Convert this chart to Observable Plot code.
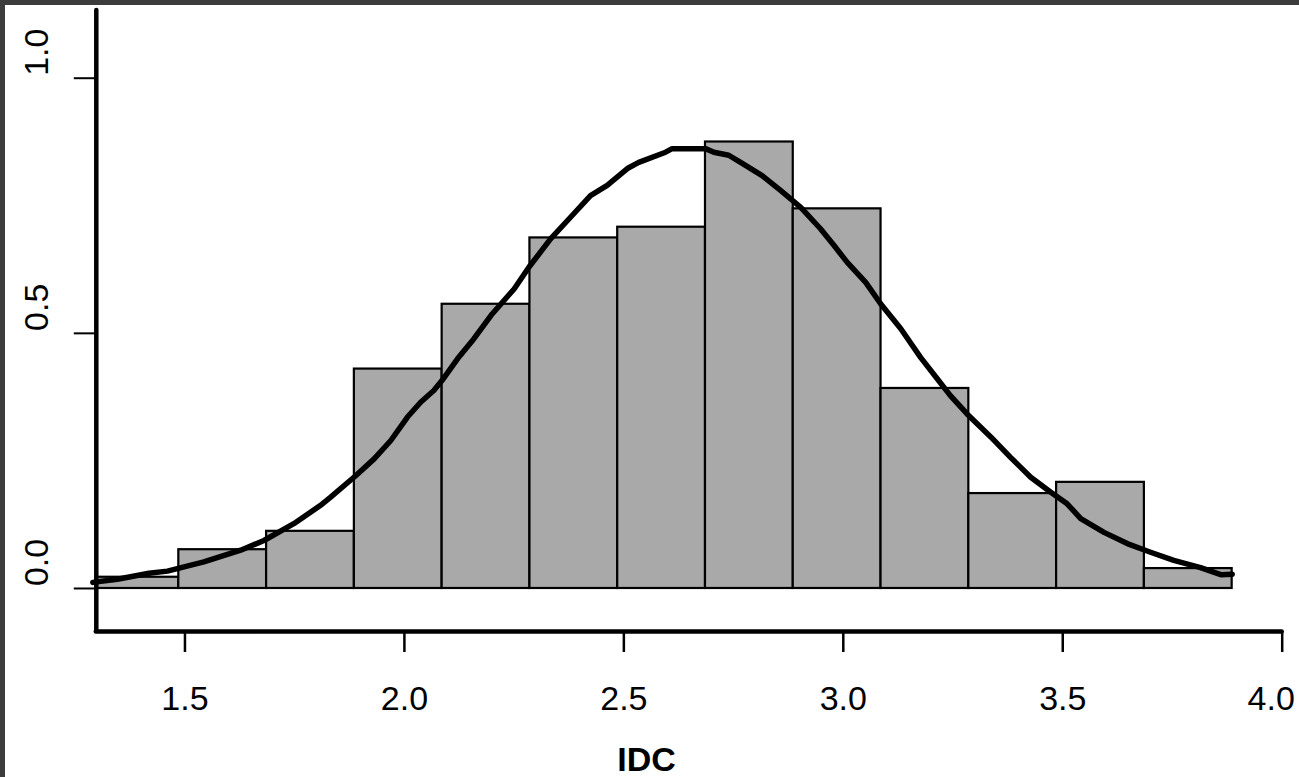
<!DOCTYPE html>
<html><head><meta charset="utf-8">
<script src="https://cdn.jsdelivr.net/npm/d3@7"></script>
<script src="https://cdn.jsdelivr.net/npm/@observablehq/plot@0.6"></script>
<style>
html,body{margin:0;padding:0;background:#fff;}
#chart{position:relative;width:1299px;height:777px;overflow:hidden;background:#fff;}
.bt{position:absolute;left:0;top:0;width:1299px;height:5px;background:#3c3c3c;}
.bl{position:absolute;left:0;top:0;width:5px;height:777px;background:#3c3c3c;}
svg{display:block;}
</style></head><body>
<div id="chart"><div class="bt"></div><div class="bl"></div></div>
<script>
// Histogram bin edges (IDC) and density heights
const binEdges = [1.286, 1.486, 1.686, 1.886, 2.086, 2.286, 2.486, 2.686, 2.886, 3.086, 3.286, 3.486, 3.686, 3.886];
const densities = [0.022, 0.076, 0.112, 0.430, 0.557, 0.687, 0.708, 0.875, 0.744, 0.392, 0.186, 0.208, 0.039];

// Kernel density curve
const curveX = [1.290, 1.346, 1.418, 1.460, 1.543, 1.627, 1.680, 1.748, 1.809, 1.832, 1.889, 1.931, 1.969, 2.007, 2.037, 2.067, 2.086, 2.121, 2.158, 2.200, 2.250, 2.284, 2.333, 2.379, 2.424, 2.462, 2.508, 2.534, 2.595, 2.610, 2.686, 2.705, 2.739, 2.766, 2.815, 2.857, 2.903, 2.948, 2.979, 3.009, 3.051, 3.085, 3.131, 3.176, 3.214, 3.244, 3.282, 3.336, 3.381, 3.427, 3.472, 3.510, 3.541, 3.594, 3.647, 3.700, 3.753, 3.814, 3.860, 3.886];
const curveY = [0.012, 0.018, 0.030, 0.034, 0.052, 0.075, 0.094, 0.127, 0.163, 0.179, 0.221, 0.254, 0.290, 0.336, 0.365, 0.388, 0.408, 0.450, 0.489, 0.538, 0.587, 0.630, 0.685, 0.728, 0.770, 0.790, 0.823, 0.835, 0.855, 0.862, 0.862, 0.855, 0.849, 0.835, 0.809, 0.780, 0.747, 0.705, 0.672, 0.639, 0.600, 0.558, 0.509, 0.453, 0.411, 0.378, 0.342, 0.297, 0.257, 0.218, 0.189, 0.166, 0.137, 0.110, 0.088, 0.071, 0.055, 0.041, 0.027, 0.028];

const xTicks = [1.5, 2.0, 2.5, 3.0, 3.5, 4.0];
const yTicks = [0.0, 0.5, 1.0];
const xLabel = "IDC";
const xDomain = [1.298, 4.0];
const yDomain = [-0.0843, 1.1327];

const bins = densities.map((d, i) => ({x1: binEdges[i], x2: binEdges[i + 1], y: d}));
const curve = curveX.map((x, i) => ({x, y: curveY[i]}));
const fmt = d3.format(".1f");
const lastX = xTicks[xTicks.length - 1];

const plot = Plot.plot({
  width: 1299, height: 777,
  marginLeft: 95.8, marginRight: 17.3, marginTop: 10, marginBottom: 146,
  style: {fontFamily: "'Liberation Sans', Arial, Helvetica, sans-serif", fontSize: "34px", color: "#000", background: "transparent", overflow: "visible"},
  x: {domain: xDomain},
  y: {domain: yDomain},
  marks: [
    Plot.rect(bins, {x1: "x1", x2: "x2", y1: 0, y2: "y", fill: "#a9a9a9", stroke: "#000", strokeWidth: 2.2, clip: true}),
    Plot.line(curve, {x: "x", y: "y", stroke: "#000", strokeWidth: 5.5, strokeLinejoin: "round", strokeLinecap: "round"}),
    Plot.ruleX([xDomain[0]], {stroke: "#000", strokeWidth: 4.5, strokeLinecap: "round"}),
    Plot.ruleY([yDomain[0]], {stroke: "#000", strokeWidth: 4.5, strokeLinecap: "round"}),
    // x ticks and labels
    Plot.axisX({ticks: xTicks, tickSize: 21, strokeWidth: 2.5, tickFormat: () => "", label: null}),
    Plot.axisX({ticks: xTicks.filter(t => t !== lastX), tickSize: 0, tickPadding: 54, tickFormat: fmt, label: null, fontSize: 34}),
    Plot.axisX({ticks: [lastX], tickSize: 0, tickPadding: 54, dx: -11, tickFormat: fmt, label: null, fontSize: 34}),
    // y ticks and rotated labels
    Plot.axisY({ticks: yTicks, tickSize: 22, strokeWidth: 2, tickFormat: () => "", label: null}),
    Plot.axisY({ticks: yTicks, tickSize: 0, tickPadding: 48.5, tickRotate: -90, dy: -26, tickFormat: fmt, label: null, fontSize: 34}),
    Plot.text([xLabel], {frameAnchor: "bottom", dx: -42.75, dy: 139, lineAnchor: "bottom", fontWeight: "bold", fontSize: 34, text: d => d})
  ]
});
document.getElementById("chart").prepend(plot);
</script>
</body></html>
